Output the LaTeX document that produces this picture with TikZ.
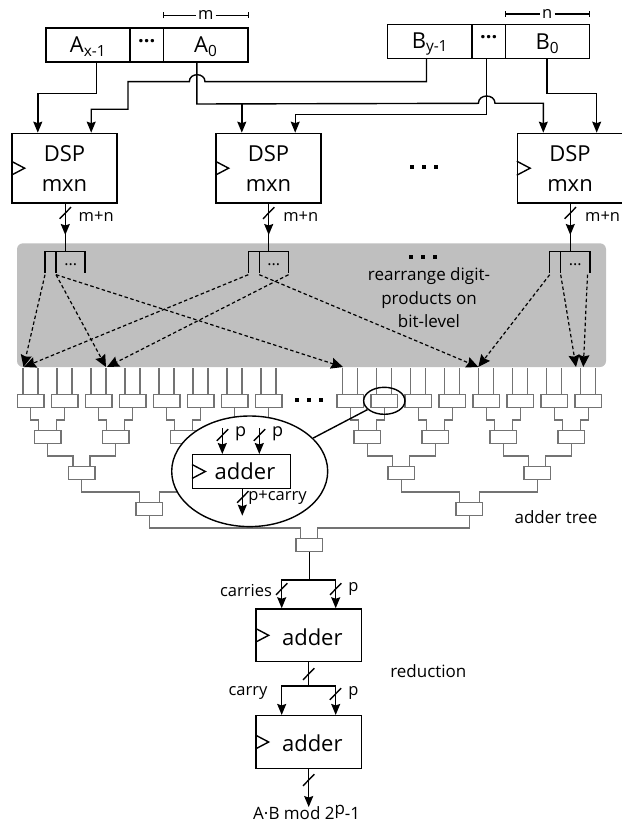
\documentclass[tikz,border=0pt]{standalone}
\usepackage{fontspec}
\setmainfont{Open Sans}
\usetikzlibrary{arrows.meta,shapes.geometric}

\tikzset{
    wire/.style={line width=1.4pt, black},
    busarrow/.style={wire, -{Stealth[length=11pt,width=9pt,inset=1.5pt]}},
    dimline/.style={line width=1.1pt, black},
    dasharrow/.style={line width=1.2pt, dash pattern=on 3.5pt off 2.5pt, -{Stealth[length=12pt,width=11pt,inset=1.5pt]}},
    treewire/.style={line width=1.3pt, draw=black!55},
    addbox/.style={draw=black!55, line width=1.3pt, fill=white, minimum width=26.7pt, minimum height=13.3pt, inner sep=0pt},
    regcell/.style={draw, line width=1.4pt, minimum height=34pt, inner sep=0pt},
    dspbox/.style={draw, line width=1.4pt, fill=white, minimum width=105pt, minimum height=69.7pt, inner sep=0pt},
    adderbox/.style={draw, line width=1.4pt, fill=white, minimum width=105.3pt, inner sep=0pt},
    bigtext/.style={font=\fontsize{22}{26}\selectfont, inner sep=0pt},
    smalltext/.style={font=\fontsize{16.5}{20}\selectfont, inner sep=0pt},
    dotstext/.style={font=\fontsize{20}{20}\selectfont\bfseries, inner sep=0pt}
}

\newcommand{\clockmark}[1]{\draw[wire] ([yshift=7pt]#1.west) -- ++(13.3,7) -- ++(-13.3,7);}
\newcommand{\slashmark}[2]{\draw[wire] (#1,#2) ++(-5.7,5.8) -- ++(11.4,-11.6);}
\newcommand{\treelink}[4]{\draw[treewire] (#1.south) -- ++(0,#4) -| ([xshift=#3pt]#2.north);}
\newcommand{\bigdots}[2]{\foreach \d in {-12,0,12} {\fill ([xshift=\d pt]#1,#2) ++(-2,-2) rectangle ++(4,4);}}

\begin{document}
\begin{tikzpicture}[x=1pt,y=-1pt]
    \useasboundingbox (0,0) rectangle (621,826);

    % gray rearrange area
    \fill[black!25, rounded corners=6pt] (17,243.3) rectangle (606,367);

    % operand registers
    \node[regcell, minimum width=84pt] (aHigh) at (88,45) {};
    \node[regcell, minimum width=33.6pt] (aDots) at (146.8,45) {};
    \node[regcell, minimum width=84.4pt] (aLow) at (205.8,45) {};
    \node[regcell, minimum width=84.3pt] (bHigh) at (429.9,41.5) {};
    \node[regcell, minimum width=33.3pt] (bDots) at (488.7,41.5) {};
    \node[regcell, minimum width=84pt] (bLow) at (547.3,41.5) {};
    \node[bigtext] (aHighText) at (88,47) {A\textsubscript{x-1}};
    \node[dotstext] (aDotsText) at (146.8,41) {...};
    \node[bigtext] (aLowText) at (205.8,47) {A\textsubscript{0}};
    \node[bigtext] (bHighText) at (429.9,44) {B\textsubscript{y-1}};
    \node[dotstext] (bDotsText) at (488.7,37) {...};
    \node[bigtext] (bLowText) at (547.3,44) {B\textsubscript{0}};

    % digit width marks
    \node[smalltext, inner xsep=2pt] (mLabel) at (205.8,15.3) {m};
    \node[smalltext, inner xsep=2pt] (nLabel) at (547.3,14) {n};
    \draw[dimline, {Bar[width=6pt]}-] (aLow.north west |- mLabel) -- (mLabel);
    \draw[dimline, -{Bar[width=6pt]}] (mLabel) -- (aLow.north east |- mLabel);
    \draw[dimline, {Bar[width=6pt]}-] (bLow.north west |- nLabel) -- (nLabel);
    \draw[dimline, -{Bar[width=6pt]}] (nLabel) -- (bLow.north east |- nLabel);

    % DSP blocks
    \foreach \n/\x in {A/64.5,B/268.5,C/570} {
        \node[dspbox] (dsp\n) at (\x,168.2) {};
        \clockmark{dsp\n}
        \node[bigtext] (dsp\n Top) at (\x,154) {DSP};
        \node[bigtext] (dsp\n Bot) at (\x,186) {mxn};
        \coordinate (dsp\n Left) at ([xshift=-26.7pt]dsp\n.north);
        \coordinate (dsp\n Right) at ([xshift=26.7pt]dsp\n.north);
    }
    \bigdots{423.7}{167.3}

    % wires from the registers to the DSP blocks
    \draw[busarrow] ([xshift=8.6pt]aHigh.south) -- ++(0,31) -| (dspALeft);
    \draw[busarrow] ([xshift=-9pt]aLow.south) -- ++(0,41.3) coordinate (aBus) -- (478.4,103.3) .. controls (478.4,93.6) and (495,93.6) .. (495,103.3) -| (dspCLeft);
    \draw[busarrow] (dspBLeft |- aBus) -- (dspBLeft);
    \draw[busarrow] ([xshift=-3.4pt]bHigh.south) |- (205,81.7) .. controls (205,72.4) and (189.3,72.4) .. (189.3,81.7) -- (128,81.7) |- (dspARight |- 0,109.3) -- (dspARight);
    \draw[busarrow] ([xshift=-2.4pt]bDots.south) |- (dspBRight |- 0,114.3) -- (dspBRight);
    \draw[busarrow] ([xshift=-0.3pt]bLow.south) -- ++(0,34.3) -| (dspCRight);

    % DSP outputs and fan-out of the digit product
    \foreach \n/\x/\lbl in {A/65.3/96.2,B/268.7/300.8,C/570.3/602.6} {
        \draw[busarrow] (\x,203) -- (\x,235);
        \slashmark{\x}{213}
        \node[smalltext] (width\n) at (\lbl,216.7) {m+n};
    }
    \foreach \n/\x/\s in {A/65.3/20.3,B/268.7/20.4,C/570.3/20.6} {
        \coordinate (fan\n) at (\x,251.7);
        \coordinate (fan\n a) at (\x-\s,272.7);
        \coordinate (fan\n b) at (\x-\s+11,272.7);
        \coordinate (fan\n c) at (\x+19.8,272.7);
        \draw[wire] (fan\n a) |- (fan\n) -| (fan\n c);
        \draw[wire] (fan\n b) -- (fan\n b |- fan\n);
        \draw[wire] (fan\n) -- (\x,234);
    }
    \node[font=\fontsize{16}{16}\selectfont, inner sep=0pt] (fanADots) at (70.7,264.5) {...};
    \node[font=\fontsize{16}{16}\selectfont, inner sep=0pt] (fanBDots) at (273.7,264.5) {...};
    \node[font=\fontsize{16}{16}\selectfont, inner sep=0pt] (fanCDots) at (575.3,264.5) {...};

    % dashed rearranging arrows
    \draw[dasharrow] ([yshift=-2pt]fanAa) -- (23.5,367);
    \draw[dasharrow] ([yshift=-2pt]fanAb) -- (106,367);
    \draw[dasharrow] ([yshift=-2pt]fanAb) -- (343,367);
    \draw[dasharrow] ([yshift=-2pt]fanBa) -- (24,367);
    \draw[dasharrow] ([yshift=-2pt]fanBc) -- (107,367);
    \draw[dasharrow] ([yshift=-2pt]fanBb) -- (478.3,367);
    \draw[dasharrow] ([yshift=-2pt]fanCa) -- (478.3,367);
    \draw[dasharrow] ([yshift=-2pt]fanCb) -- (576,367);
    \draw[dasharrow] (587.5,274.7) -- (583.3,367);

    \bigdots{423.3}{256.7}
    \node[smalltext, align=center, font=\fontsize{17}{23.5}\selectfont] (rearrange) at (429,298) {rearrange digit-\\products on\\bit-level};

    % adder tree, first level
    \foreach \n/\x in {1/30.5,2/64.5,3/98.5,4/132.5,5/166.5,6/200.5,7/234.5,8/268.5,
                       9/350.3,10/384.3,11/418.3,12/452.3,13/486.3,14/520.3,15/554.3,16/588.3} {
        \draw[treewire] ([xshift=-7.5pt]\x,401) -- ++(0,-33);
        \draw[treewire] ([xshift=7.5pt]\x,401) -- ++(0,-33);
        \node[addbox] (leaf\n) at (\x,401) {};
    }
    \bigdots{309}{400}

    % adder tree, upper levels
    \foreach \n/\x in {1/47.5,2/115.5,3/183.5,4/251.5,5/367.3,6/435.3,7/503.3,8/571.3} {
        \node[addbox] (mid\n) at (\x,437) {};
    }
    \foreach \n/\x in {1/81.5,2/217.5,3/401.3,4/537.3} {
        \node[addbox] (upper\n) at (\x,473) {};
    }
    \node[addbox] (top1) at (149.3,509) {};
    \node[addbox] (top2) at (469.3,509) {};
    \node[addbox] (root) at (309.3,545) {};

    \foreach \a/\b/\m in {1/2/1,3/4/2,5/6/3,7/8/4,9/10/5,11/12/6,13/14/7,15/16/8} {
        \treelink{leaf\a}{mid\m}{-9}{11.6}
        \treelink{leaf\b}{mid\m}{9}{11.6}
    }
    \foreach \a/\b/\m in {1/2/1,3/4/2,5/6/3,7/8/4} {
        \treelink{mid\a}{upper\m}{-8.5}{11.6}
        \treelink{mid\b}{upper\m}{8.5}{11.6}
    }
    \treelink{upper1}{top1}{-10}{11.6}
    \treelink{upper2}{top1}{10}{11.6}
    \treelink{upper3}{top2}{-10}{11.6}
    \treelink{upper4}{top2}{10}{11.6}
    \treelink{top1}{root}{-8.5}{11.6}
    \treelink{top2}{root}{8.5}{11.6}

    % magnified adder
    \node[draw, line width=1.4pt, fill=white, ellipse, minimum width=156pt, minimum height=110.6pt, inner sep=0pt] (lens) at (249.7,471.3) {};
    \node[draw, line width=1.4pt, ellipse, minimum width=41.3pt, minimum height=27pt, inner sep=0pt] (lensSmall) at (384.3,400.8) {};
    \draw[wire] (lensSmall) -- (lens);
    \node[adderbox, minimum width=98pt, minimum height=33.6pt] (addInner) at (241.7,471.5) {};
    \clockmark{addInner}
    \node[bigtext] (addInnerText) at (245,471.5) {adder};
    \draw[busarrow] (222.3,428.3) -- ([xshift=-19.4pt]addInner.north);
    \draw[busarrow] (259.3,428.3) -- ([xshift=17.6pt]addInner.north);
    \draw[busarrow] ([xshift=0.6pt]addInner.south) -- ++(0,26.7);
    \slashmark{222.5}{435}
    \slashmark{259.5}{435}
    \slashmark{242.8}{497}
    \node[smalltext, font=\fontsize{18}{20}\selectfont] (pLeft) at (240.7,434) {p};
    \node[smalltext, font=\fontsize{18}{20}\selectfont] (pRight) at (277.7,434) {p};
    \node[smalltext] (pCarry) at (277.5,498) {p+carry};

    \node[smalltext, font=\fontsize{17}{20}\selectfont] (treeLabel) at (556,517.3) {adder tree};

    % reduction stage
    \node[adderbox, minimum height=52.7pt] (addFirst) at (308.7,635.3) {};
    \node[adderbox, minimum height=52.7pt] (addSecond) at (308.7,742) {};
    \clockmark{addFirst}
    \clockmark{addSecond}
    \node[bigtext] (addFirstText) at (312.3,637) {adder};
    \node[bigtext] (addSecondText) at (312.3,743.5) {adder};

    \draw[wire] (root.south) -- (root.south |- 0,580) coordinate (rootFork);
    \draw[busarrow] (rootFork) -| ([xshift=-27pt]addFirst.north);
    \draw[busarrow] (rootFork) -| ([xshift=27pt]addFirst.north);
    \draw[wire] (addFirst.south) -- (addFirst.south |- 0,686) coordinate (firstFork);
    \draw[busarrow] (firstFork) -| ([xshift=-27pt]addSecond.north);
    \draw[busarrow] (firstFork) -| ([xshift=27pt]addSecond.north);
    \draw[busarrow] (addSecond.south) -- ++(0,38);
    \slashmark{281.7}{589}
    \slashmark{335.7}{589}
    \slashmark{308.7}{674}
    \slashmark{335.5}{694}
    \slashmark{308.7}{780}

    \node[smalltext] (carriesLabel) at (246,591) {carries};
    \node[smalltext] (carryLabel) at (248,693) {carry};
    \node[smalltext] (pFirst) at (353.3,589) {p};
    \node[smalltext] (pSecond) at (353.3,693) {p};
    \node[smalltext, font=\fontsize{17}{20}\selectfont] (reductionLabel) at (428.3,670.7) {reduction};
    \node[smalltext, font=\fontsize{17}{20}\selectfont, anchor=base] (resultLabel) at (306.7,819) {A·B mod 2\raisebox{5pt}{p}-1};
\end{tikzpicture}
\end{document}
